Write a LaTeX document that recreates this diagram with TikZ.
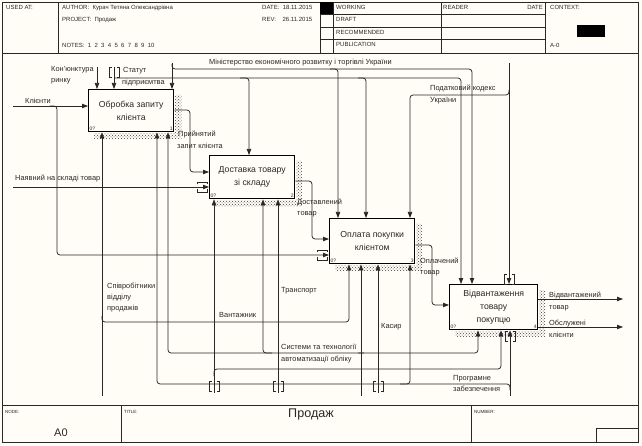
\documentclass[tikz,border=0pt]{standalone}
\usepackage{fontspec}
\setmainfont{Liberation Sans}
\usetikzlibrary{arrows.meta,patterns,calc}
\definecolor{bgc}{RGB}{255,253,245}
\definecolor{lnc}{RGB}{40,40,40}
\begin{document}
\begin{tikzpicture}[x=1pt,y=-1pt,
  ln/.style={draw=lnc,line width=0.75pt},
  arr/.style={ln,-{Triangle[length=6pt,width=4.4pt]}},
  rc/.style={rounded corners=3pt},
  frameline/.style={draw=lnc,line width=0.8pt},
  procbox/.style={draw=black,line width=1.4pt,fill=bgc,anchor=north west,inner sep=0pt,align=center,font=\fontsize{8.7}{13}\selectfont,text=lnc},
  shad/.style={pattern=crosshatch dots,pattern color=black!75},
  lab/.style={anchor=base west,inner sep=0pt,font=\fontsize{7.4}{8}\selectfont,text=lnc},
  hdr/.style={anchor=base west,inner sep=0pt,font=\fontsize{6}{7}\selectfont,text=lnc},
  tinylab/.style={anchor=base west,inner sep=0pt,font=\fontsize{4.5}{5}\selectfont,text=lnc},
  cornerlab/.style={inner sep=1.5pt,font=\fontsize{5}{6}\selectfont,text=lnc},
  vtun/.pic={\draw[lnc,line width=0.6pt] (-2.5,-5) -- (-5,-5) -- (-5,5) -- (-2.5,5) (2.5,-5) -- (5,-5) -- (5,5) -- (2.5,5);},
  htun/.pic={\draw[lnc,line width=0.6pt] (-5,-2.5) -- (-5,-5) -- (5,-5) -- (5,-2.5) (-5,2.5) -- (-5,5) -- (5,5) -- (5,2.5);}
]
\useasboundingbox (0,0) rectangle (642,446);
\fill[bgc] (0,0) rectangle (642,446);

% ---------- frame, header, footer ----------
\draw[frameline] (2,2) rectangle (638,442);
\draw[frameline] (2,53) -- (638,53);
\draw[frameline] (58,2) -- (58,53) (320,2) -- (320,53) (333,2) -- (333,53) (441,2) -- (441,53) (545,2) -- (545,53);
\draw[frameline] (320,14.5) -- (545,14.5) (320,27) -- (545,27) (320,39.5) -- (545,39.5);
\fill[black] (320,2) rectangle (333,14.5);
\fill[black] (577,25) rectangle (605,37);
\draw[frameline] (2,405) -- (638,405) (121,405) -- (121,442) (471,405) -- (471,442);
\draw[frameline] (596,428) rectangle (638,442);

\node[hdr] (hused) at (6,10) {USED AT:};
\node[hdr] (hauth) at (62,10) {AUTHOR:\ \ Курач Тетяна Олександрівна};
\node[hdr] (hproj) at (62,22) {PROJECT:\ \ Продаж};
\node[hdr] (hnotes) at (62,48) {NOTES:\ \ 1\ \ 2\ \ 3\ \ 4\ \ 5\ \ 6\ \ 7\ \ 8\ \ 9\ \ 10};
\node[hdr] (hdate) at (262,10) {DATE:\ \ 18.11.2015};
\node[hdr] (hrev) at (262,22) {REV:\ \ \ \ 26.11.2015};
\node[hdr] (hwork) at (336,10) {WORKING};
\node[hdr] (hdraft) at (336,22) {DRAFT};
\node[hdr] (hrec) at (336,35) {RECOMMENDED};
\node[hdr] (hpub) at (336,47) {PUBLICATION};
\node[hdr] (hread) at (443,10) {READER};
\node[hdr,anchor=base east] (hrdate) at (543,10) {DATE};
\node[hdr] (hctx) at (550,10) {CONTEXT:};
\node[hdr] (hctxn) at (550,48) {A-0};

\node[tinylab] (fnode) at (5,413) {NODE:};
\node[anchor=base west,inner sep=0pt,font=\fontsize{11}{13}\selectfont,text=lnc] (fnodev) at (54,436) {A0};
\node[tinylab] (ftitle) at (124,413) {TITLE:};
\node[inner sep=0pt,font=\fontsize{12.6}{14}\selectfont,text=lnc] (ftitlev) at (311,414) {Продаж};
\node[tinylab] (fnum) at (474,413) {NUMBER:};

% ---------- activity boxes ----------
\node[procbox,minimum width=85pt,minimum height=42pt] (b1) at (88,89) {Обробка запиту\\клієнта};
\node[procbox,minimum width=85pt,minimum height=43pt] (b2) at (209,155) {Доставка товару\\зі складу};
\node[procbox,minimum width=85pt,minimum height=45pt] (b3) at (329,218) {Оплата покупки\\клієнтом};
\node[procbox,minimum width=88pt,minimum height=45pt] (b4) at (449,284) {Відвантаження\\товару\\покупцю};

\foreach \b in {b1,b2,b3,b4}{
  \fill[shad] ($(\b.north east)+(0.8,6)$) rectangle ($(\b.south east)+(7,7)$)
              ($(\b.south west)+(6,0.8)$) rectangle ($(\b.south east)+(7,7)$);
}
\node[cornerlab,anchor=south west] (c1a) at (b1.south west) {0?};
\node[cornerlab,anchor=south east] (c1b) at (b1.south east) {1};
\node[cornerlab,anchor=south west] (c2a) at (b2.south west) {0?};
\node[cornerlab,anchor=south east] (c2b) at (b2.south east) {2};
\node[cornerlab,anchor=south west] (c3a) at (b3.south west) {0?};
\node[cornerlab,anchor=south east] (c3b) at (b3.south east) {3};
\node[cornerlab,anchor=south west] (c4a) at (b4.south west) {0?};
\node[cornerlab,anchor=south east] (c4b) at (b4.south east) {4};

% ---------- controls ----------
\coordinate (s1) at (97,67);
\draw[arr] (s1) -- (s1 |- b1.north);
\coordinate (s2) at (114,67);
\draw[arr] (s2) -- (s2 |- b1.north);
\pic at (114,72) {vtun};
\draw[arr,rc] (114,78) -| (461,78 |- b4.north);
\draw[arr,rc] (240,78) -| (249,78 |- b2.north);
\draw[arr,rc] (358,78) -| (366,78 |- b3.north);
\coordinate (s3) at (172,63);
\draw[arr] (s3) -- (s3 |- b1.north);
\draw[arr,rc] (172,64) |- (472,69) -- (472,69 |- b4.north);
\draw[arr,rc] (330,69) -| (338,69 |- b3.north);
\coordinate (s4) at (509,63);
\draw[arr] (s4) -- (s4 |- b4.north);
\pic at (509,279) {vtun};
\draw[arr,rc] (509,90) |- (410,95) -- (410,95 |- b3.north);

% ---------- inputs and flows ----------
\coordinate (i1) at (13,106);
\draw[arr] (i1) -- (i1 -| b1.west);
\draw[arr,rc] (50,106) -| (57,255) -- (57,255 -| b3.west);
\pic at (322,255) {htun};
\coordinate (i2) at (13,187);
\draw[arr] (i2) -- (i2 -| b2.west);
\pic at (202,187) {htun};
\draw[arr,rc] (b1.east |- 0,110) -| (190,172) -- (190,172 -| b2.west);
\draw[arr,rc] (b2.east |- 0,181) -| (312,239) -- (312,239 -| b3.west);
\draw[arr,rc] (b3.east |- 0,245) -| (432,305) -- (432,305 -| b4.west);
\coordinate (o1) at (623,299);
\draw[arr] (b4.east |- o1) -- (o1);
\coordinate (o2) at (623,327);
\draw[arr] (b4.east |- o2) -- (o2);

% ---------- mechanisms ----------
\coordinate (m1) at (102,396);
\draw[arr] (m1) -- (m1 |- b1.south);
\draw[arr,rc] (102,316) |- (349,322) -- (349,322 |- b3.south);
\coordinate (m2) at (361,396);
\draw[arr] (m2) -- (m2 |- b3.south);
\draw[arr,rc] (364,353) -| (168,353 |- b1.south);
\draw[arr,rc] (272,353) -| (263,353 |- b2.south);
\draw[arr,rc] (358,353) -| (478,353 |- b4.south);
\coordinate (m3) at (510,396);
\draw[arr] (m3) -- (m3 |- b4.south);
\pic at (510,336) {vtun};
\draw[arr,rc] (510,390) |- (157,384) -- (157,384 |- b1.south);
\draw[arr,rc] (400,384) -| (410,384 |- b3.south);
\coordinate (m4) at (214,393);
\draw[arr] (m4) -- (m4 |- b2.south);
\pic at (214,386) {vtun};
\draw[arr,rc] (214,376) |- (501,369) -- (501,369 |- b4.south);
\coordinate (m5) at (278,393);
\draw[arr] (m5) -- (m5 |- b2.south);
\pic at (278,386) {vtun};
\coordinate (m6) at (378,393);
\draw[arr] (m6) -- (m6 |- b3.south);
\pic at (378,386) {vtun};

% ---------- labels ----------
\node[lab] (lkl) at (25,103.5) {Клієнти};
\node[lab] (lkon1) at (51,71.5) {Кон'юнктура};
\node[lab] (lkon2) at (51,82.5) {ринку};
\node[lab] (lst1) at (123,72.5) {Статут};
\node[lab] (lst2) at (122,84.5) {підприємтва};
\node[lab] (lmin) at (209,64.5) {Міністерство економічного розвитку і торгівлі України};
\node[lab] (lpod1) at (430,90.5) {Податковий кодекс};
\node[lab] (lpod2) at (430,102.5) {України};
\node[lab] (lpr1) at (178,136.5) {Прийнятий};
\node[lab] (lpr2) at (177,148.5) {запит клієнта};
\node[lab] (lnay) at (15,180.5) {Наявний на складі товар};
\node[lab] (ldo1) at (297,204.5) {Доставлений};
\node[lab] (ldo2) at (297,215.5) {товар};
\node[lab] (lop1) at (420,263.5) {Оплачений};
\node[lab] (lop2) at (420,274.5) {товар};
\node[lab] (lvi1) at (549,297.5) {Відвантажений};
\node[lab] (lvi2) at (549,309.5) {товар};
\node[lab] (lob1) at (549,325.5) {Обслужені};
\node[lab] (lob2) at (549,337.5) {клієнти};
\node[lab] (lsp1) at (107,288.5) {Співробітники};
\node[lab] (lsp2) at (107,299.5) {відділу};
\node[lab] (lsp3) at (107,310.5) {продажів};
\node[lab] (ltr) at (281,292.5) {Транспорт};
\node[lab] (lva) at (219,317.5) {Вантажник};
\node[lab] (lka) at (381,328.5) {Касир};
\node[lab] (lsy1) at (281,349.5) {Системи та технології};
\node[lab] (lsy2) at (281,361.5) {автоматизації обліку};
\node[lab] (lpz1) at (453,380.5) {Програмне};
\node[lab] (lpz2) at (453,391.5) {забезпечення};
\end{tikzpicture}
\end{document}
